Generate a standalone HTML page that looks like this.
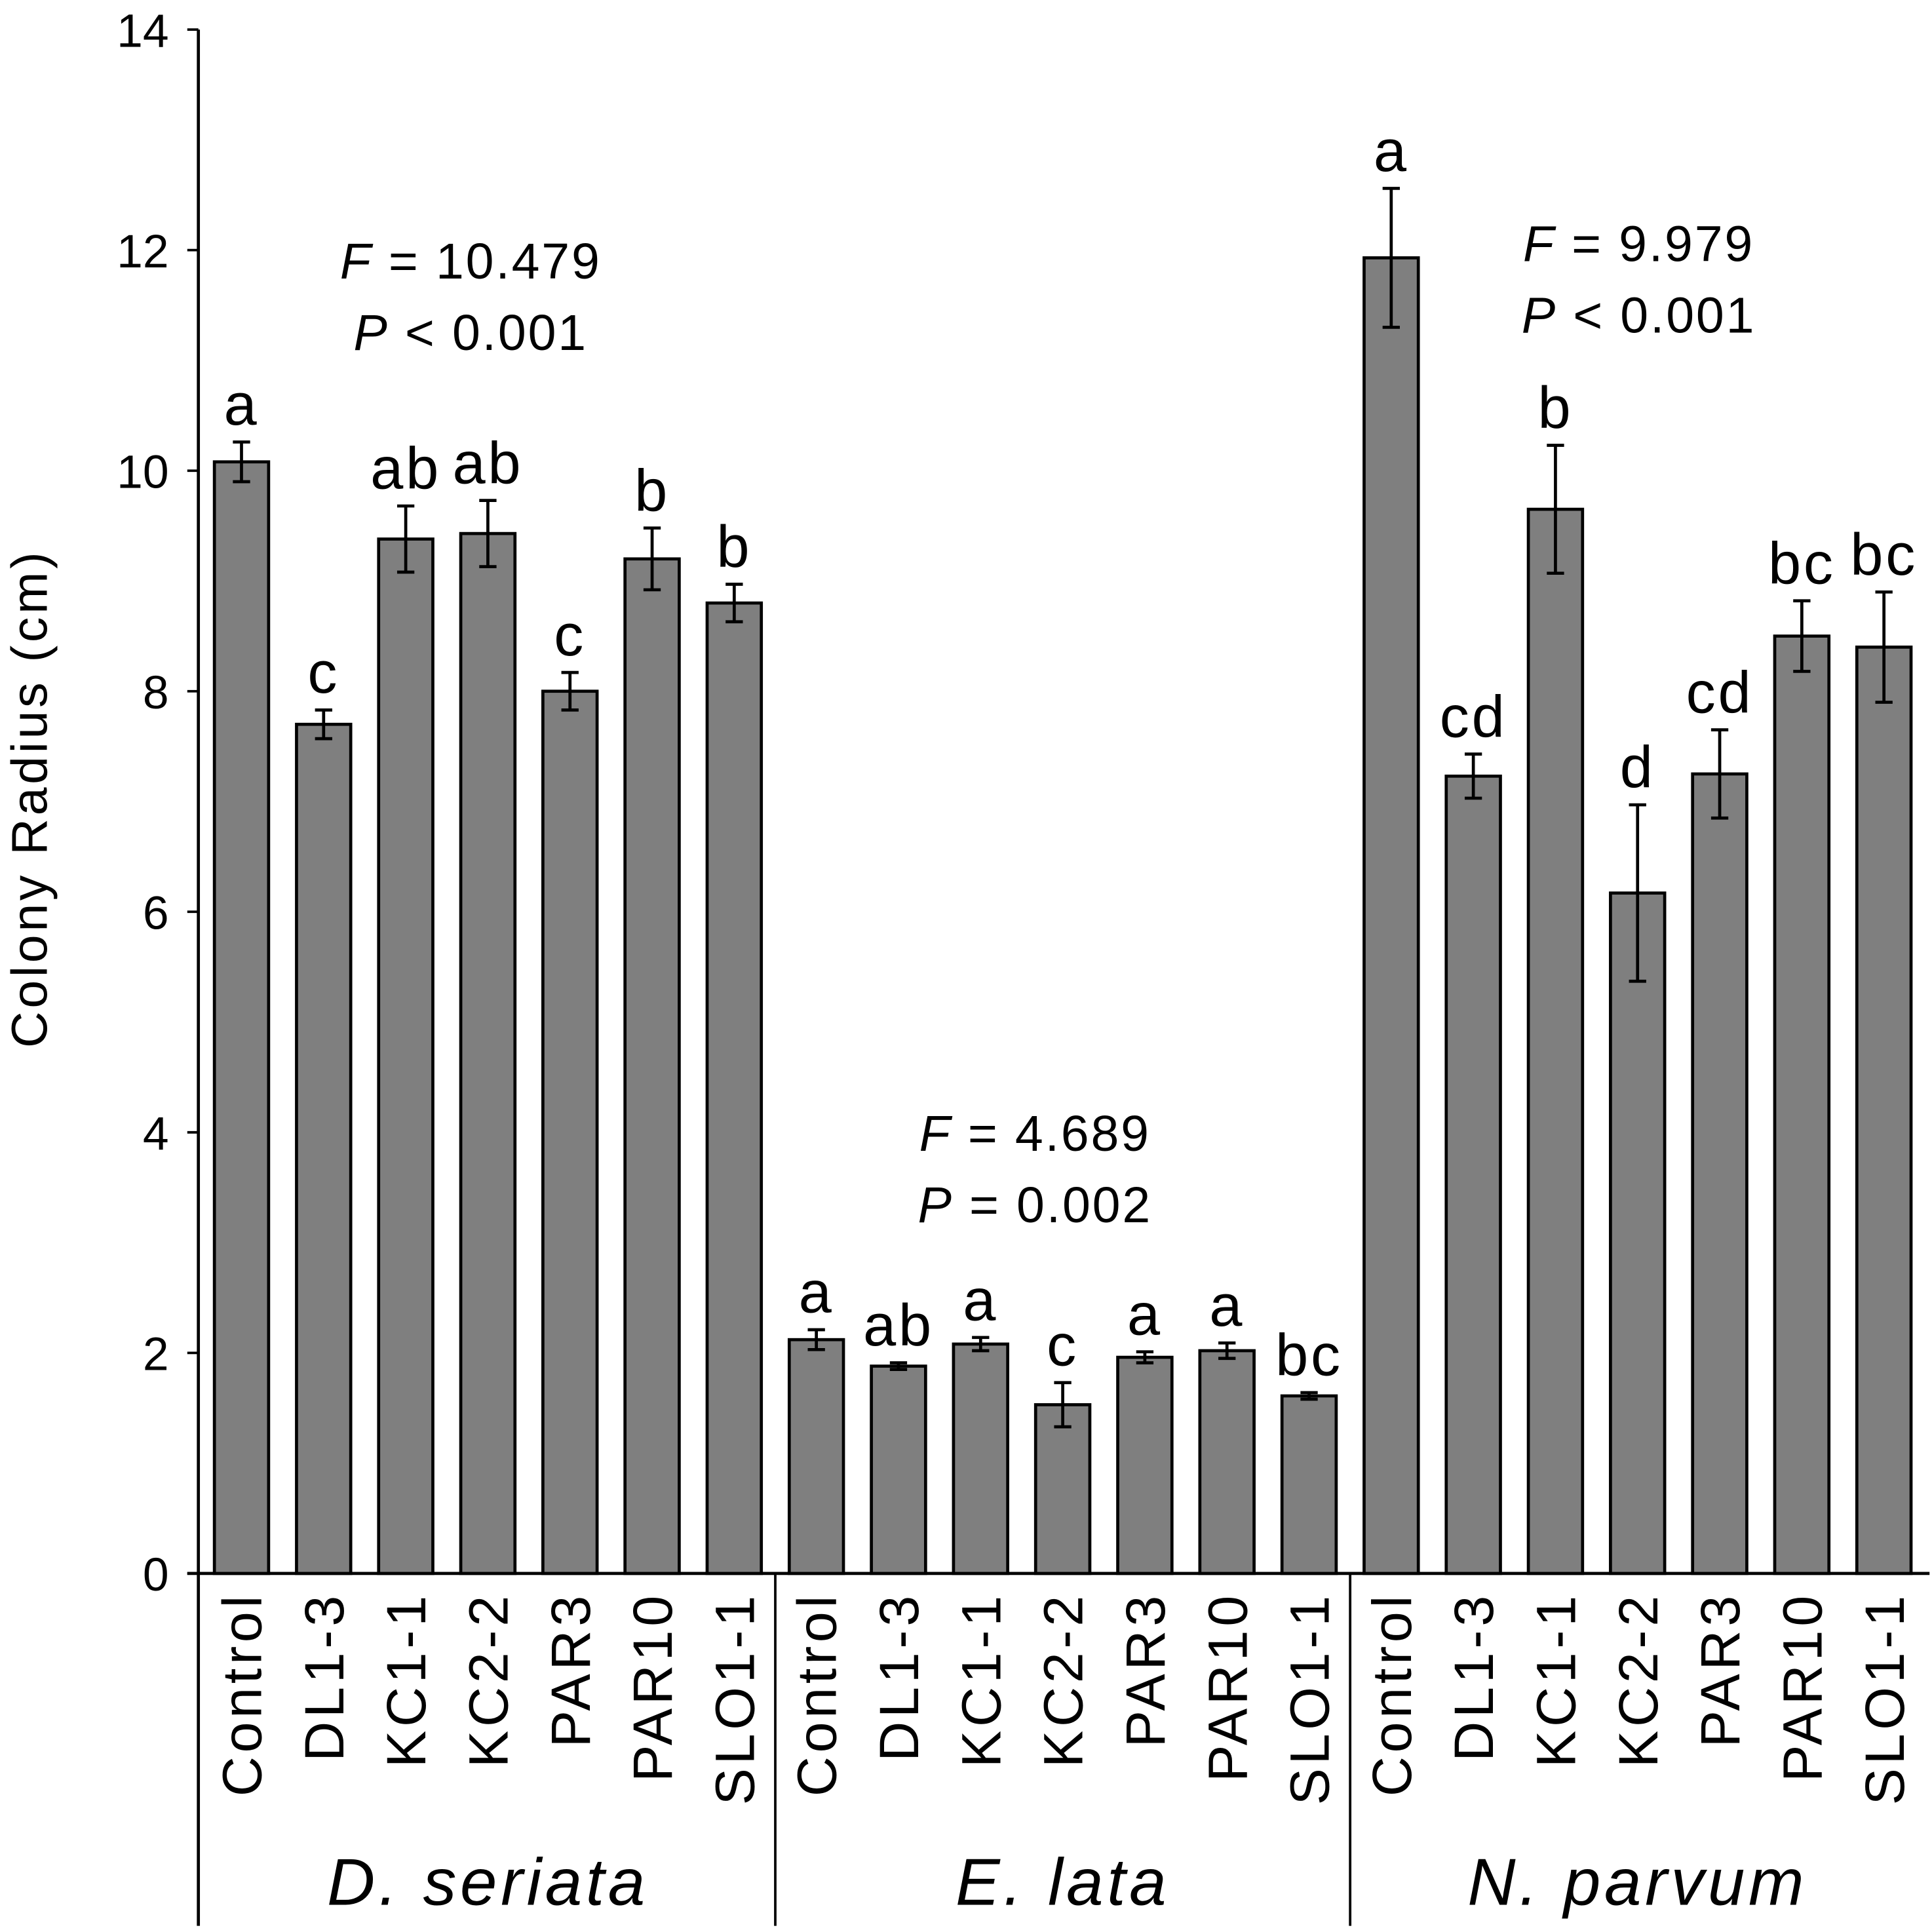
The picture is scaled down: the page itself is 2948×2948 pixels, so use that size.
<!DOCTYPE html>
<html><head><meta charset="utf-8"><style>
html,body{margin:0;padding:0;background:#fff;}
svg{display:block;font-family:"Liberation Sans",Arial,sans-serif;}
</style></head><body>
<svg id="chart" width="2948" height="2948" viewBox="0 0 1568 1568" xmlns="http://www.w3.org/2000/svg">
<g id="g"></g>
</svg>
<script>
const categories = ["Control","DL1-3","KC1-1","KC2-2","PAR3","PAR10","SLO1-1"];
const groups = ["D. seriata","E. lata","N. parvum"];
const valuesDS = [10.08,7.70,9.38,9.43,8.00,9.20,8.80];
const errorsDS = [0.18,0.13,0.30,0.30,0.17,0.28,0.17];
const lettersDS = ["a","c","ab","ab","c","b","b"];
const valuesEL = [2.12,1.88,2.08,1.53,1.96,2.02,1.61];
const errorsEL = [0.09,0.03,0.06,0.20,0.05,0.07,0.03];
const lettersEL = ["a","ab","a","c","a","a","bc"];
const valuesNP = [11.93,7.23,9.65,6.17,7.25,8.50,8.40];
const errorsNP = [0.63,0.20,0.58,0.80,0.40,0.32,0.50];
const lettersNP = ["a","cd","b","d","cd","bc","bc"];
const yTicks = [0,2,4,6,8,10,12,14];
const statsF = ["10.479","4.689","9.979"];
const statsP = ["< 0.001","= 0.002","< 0.001"];

const NS="http://www.w3.org/2000/svg";
const g=document.getElementById('g');
function el(t,a,txt){const e=document.createElementNS(NS,t);for(const k in a)e.setAttribute(k,a[k]);if(txt!==undefined)e.textContent=txt;g.appendChild(e);return e;}
const y0=1277,yTop=24,yMax=14;
const y=v=>y0-(y0-yTop)*v/yMax;
const x0=196,step=66.65,bw=44;
const x=i=>x0+i*step;

let a=el('line',{x1:161,y1:y(14),x2:161,y2:1563,stroke:'#000','stroke-width':2.5});


a=el('line',{x1:152,y1:y0,x2:1566,y2:y0,stroke:'#000','stroke-width':2.5});


yTicks.forEach(t=>{
  const l=el('line',{x1:152,y1:y(t),x2:161,y2:y(t),stroke:'#000','stroke-width':2});
  
  
  const tx=el('text',{x:137,y:y(t)+14,'text-anchor':'end','font-size':38},String(t));
  
  
});
const yt=el('text',{transform:'translate(38,648) rotate(-90)','text-anchor':'middle','font-size':41,'letter-spacing':2.5},'Colony Radius (cm)');



[x(6)+step/2, x(13)+step/2].forEach(sx=>{
  const s=el('line',{x1:sx,y1:y0,x2:sx,y2:1563,stroke:'#000','stroke-width':2});
  
  
});

const allV=[valuesDS,valuesEL,valuesNP],allE=[errorsDS,errorsEL,errorsNP],allL=[lettersDS,lettersEL,lettersNP];
allV.forEach((vals,gi)=>{
  vals.forEach((v,ci)=>{
    const i=gi*7+ci,cx=x(i),e=allE[gi][ci];
    const r=el('rect',{x:cx-bw/2,y:y(v),width:bw,height:y0-y(v),fill:'#7f7f7f',stroke:'#000','stroke-width':2.5});
    
    
    const eb=el('path',{d:`M${cx},${y(v+e)}V${y(v-e)}M${cx-7},${y(v+e)}H${cx+7}M${cx-7},${y(v-e)}H${cx+7}`,stroke:'#000','stroke-width':2.5,fill:'none'});
    
    
    const lt=el('text',{x:cx,y:y(v+e)-14,'text-anchor':'middle','font-size':48,'letter-spacing':2},allL[gi][ci]);
    
    
    const cl=el('text',{transform:`translate(${cx+16},1292) rotate(-90)`,'text-anchor':'end','font-size':45,'letter-spacing':3},categories[ci]);
    
    
  });
  const gc=(x(gi*7)+x(gi*7+6))/2;
  const gl=el('text',{x:gc,y:1546,'text-anchor':'middle','font-size':54,'font-style':'italic','letter-spacing':3},groups[gi]);
  
  
});

const statPos=[[382,226],[840,934],[1330,212]];
statPos.forEach((p,k)=>{
  const f=el('text',{x:p[0],y:p[1],'text-anchor':'middle','font-size':41,'letter-spacing':1.5});
  f.innerHTML='<tspan font-style="italic">F</tspan> = '+statsF[k];
  
  
  const pp=el('text',{x:p[0],y:p[1]+58,'text-anchor':'middle','font-size':41,'letter-spacing':1.5});
  pp.innerHTML='<tspan font-style="italic">P</tspan> '+statsP[k];
  
  
});
</script>
</body></html>
